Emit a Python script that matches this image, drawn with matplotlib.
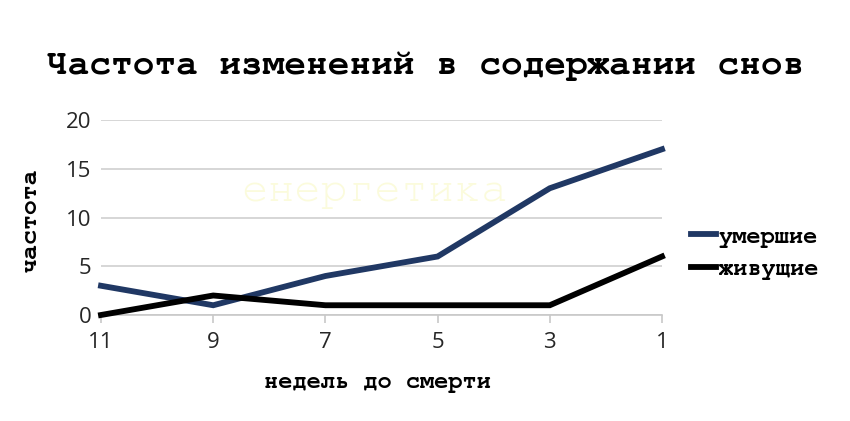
import matplotlib
matplotlib.use("Agg")
import matplotlib.pyplot as plt

weeks = ["11", "9", "7", "5", "3", "1"]
died = [3, 1, 4, 6, 13, 17]
alive = [0, 2, 1, 1, 1, 6]
yticks = [0, 5, 10, 15, 20]

title = "Частота изменений в содержании снов"
xlabel = "недель до смерти"
ylabel = "частота"
watermark = "енергетика"

mono = ["Nimbus Mono PS", "FreeMono", "Courier New", "Liberation Mono"]
sans = "Open Sans"

fig = plt.figure(figsize=(8.5, 4.21), dpi=100)
ax = fig.add_axes([101/850, 1-315/421, (662-101)/850, (315-120)/421])

x = list(range(len(weeks)))
ax.plot(x, died, color="#203864", lw=4.2, label="умершие", clip_on=False, solid_joinstyle="miter", zorder=3)
ax.plot(x, alive, color="#000000", lw=4.2, label="живущие", clip_on=False, solid_joinstyle="miter", zorder=3)

ax.set_xlim(0, len(weeks)-1)
ax.set_ylim(0, 20)
ax.set_yticks(yticks)
ax.set_xticks(x)
ax.set_xticklabels(weeks)
ax.grid(axis="y", color="#d0d0d0", lw=1.2)
ax.set_axisbelow(True)
for s in ["top", "right", "left"]:
    ax.spines[s].set_visible(False)
ax.spines["bottom"].set_color("#c8c8c8")
ax.spines["bottom"].set_linewidth(1.2)
ax.tick_params(axis="y", length=0, pad=7, labelsize=16, labelcolor="#262626")
ax.tick_params(axis="x", length=6, width=1.2, color="#c8c8c8", pad=6, labelsize=16, labelcolor="#262626")
for lab in ax.get_xticklabels() + ax.get_yticklabels():
    lab.set_fontfamily(sans)

fig.text(425/850, 1-66/421, title, ha="center", va="center", fontfamily=mono, fontweight="bold", fontsize=26)
fig.text(31/850, 1-220/421, ylabel, ha="center", va="center", rotation=90, fontfamily=mono, fontweight="bold", fontsize=18)
fig.text(377/850, 1-383/421, xlabel, ha="center", va="center", fontfamily=mono, fontweight="bold", fontsize=17)
fig.text(375/850, 1-192/421, watermark, ha="center", va="center", fontfamily=mono, fontsize=32, color="#fbfbdc", zorder=0)

leg = fig.legend(loc="center left", bbox_to_anchor=(682/850, 1-253/421), frameon=False,
                 prop={"family": mono, "weight": "bold", "size": 17}, handlelength=1.05,
                 handletextpad=0.1, labelspacing=0.45, borderaxespad=0)

fig.savefig("out.png", dpi=100, facecolor="white")
